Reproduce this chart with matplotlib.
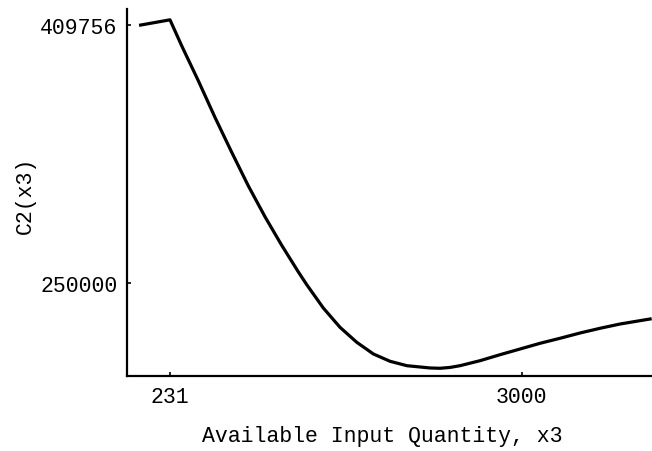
import matplotlib
matplotlib.use("Agg")
import matplotlib.pyplot as plt

# curve
x3 = [0, 231, 323, 454, 585, 717, 847, 979, 1110, 1241, 1307, 1438, 1569,
      1701, 1832, 1963, 2095, 2278, 2357, 2435, 2514, 2672, 2829, 2987, 3144,
      3301, 3459, 3616, 3774, 4010]
c2 = [409756, 413000, 396940, 375260, 352600, 330930, 310250, 291000, 273400,
      256900, 249000, 234500, 222570, 213280, 206040, 201520, 198790, 197370,
      197180, 197700, 198790, 201890, 205600, 209130, 212660, 215760, 219040,
      221950, 224610, 227710]

xticks = [231, 3000]
yticks = [250000, 409756]

plt.rcParams['font.family'] = ['Liberation Mono', 'DejaVu Sans Mono']

fig = plt.figure(figsize=(6.52, 4.52), dpi=100)
ax = fig.add_axes([127.3 / 652, 75 / 452, (652 - 127.3) / 652, (377 - 10) / 452])

ax.plot(x3, c2, color='black', lw=2.3, solid_joinstyle='round')

ax.set_xlim(-105, 4025)
ax.set_ylim(192400, 419700)

for s in ['top', 'right']:
    ax.spines[s].set_visible(False)
for s in ['left', 'bottom']:
    ax.spines[s].set_linewidth(1.6)

ax.set_xticks(xticks)
ax.set_yticks(yticks)
ax.set_xticklabels([str(v) for v in xticks])
ax.set_yticklabels([str(v) for v in yticks])
ax.tick_params(direction='in', length=3, width=1.2, labelsize=15.5, pad=7)

ax.set_xlabel('Available Input Quantity, x3', fontsize=15.5, va='center')
ax.set_ylabel('C2(x3)', fontsize=15.5, va='center')
ax.xaxis.set_label_coords(0.485, -0.163)
ax.yaxis.set_label_coords(-0.195, 0.496)

fig.savefig('out.png', dpi=100)
